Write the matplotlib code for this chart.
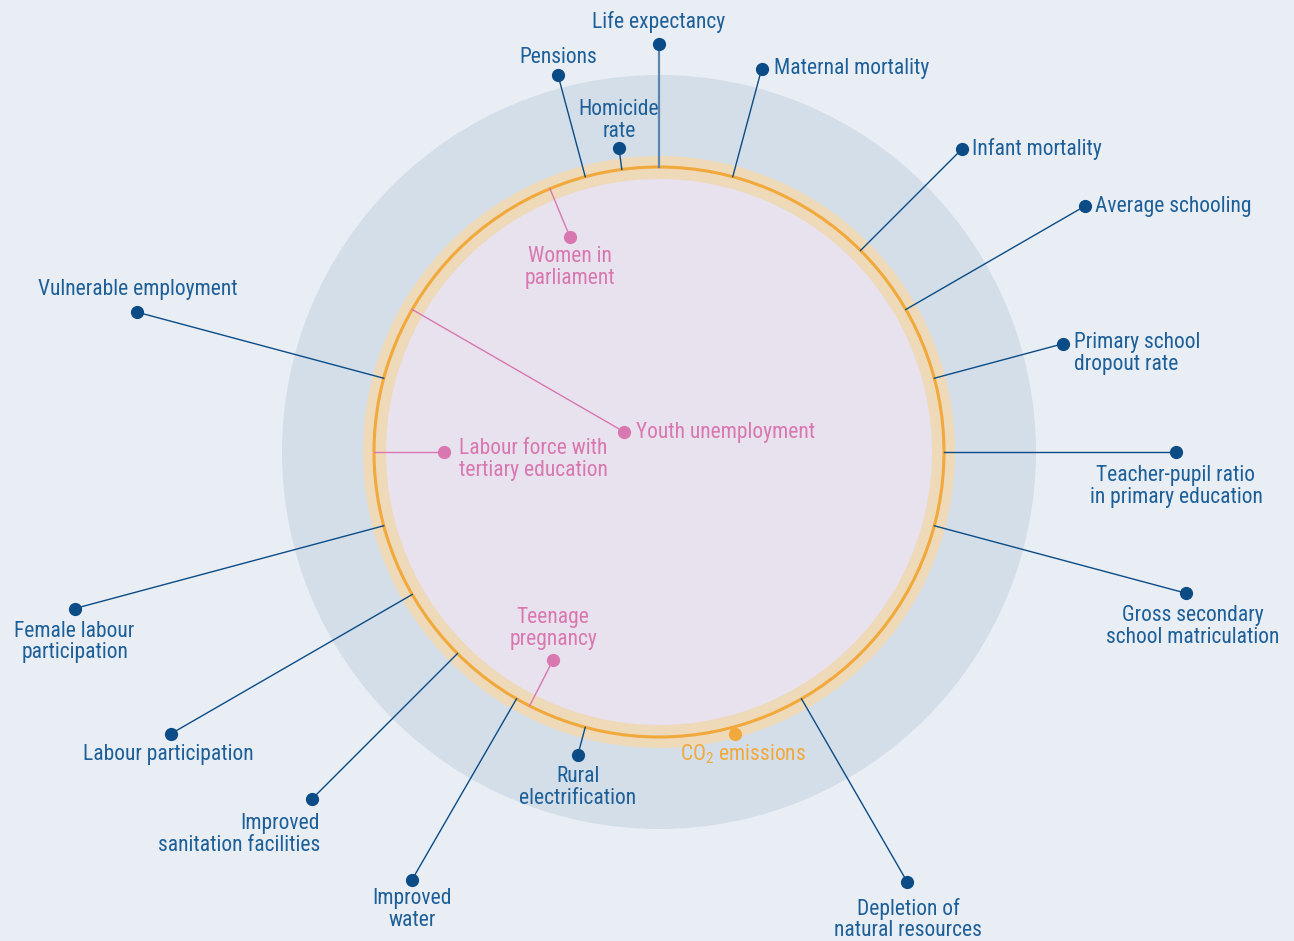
import numpy as np
import matplotlib.pyplot as plt
from matplotlib.patches import Circle

# indicators: label, angle (deg, counter-clockwise from east), distance from centre
names_out = ["Life expectancy", "Maternal mortality", "Infant mortality", "Average schooling",
             "Primary school\ndropout rate", "Teacher-pupil ratio\nin primary education",
             "Gross secondary\nschool matriculation", "Depletion of\nnatural resources",
             "Rural\nelectrification", "Improved\nwater", "Improved\nsanitation facilities",
             "Labour participation", "Female labour\nparticipation", "Vulnerable employment",
             "Pensions", "Homicide\nrate"]
angles_out = [90, 75, 45, 30, 15, 0, -15, -60, -105, -120, -135, -150, -165, 165, 105, 97.5]
dist_out = [408, 397, 429, 492, 418, 517, 546, 496, 314, 494, 491, 564, 605, 540, 390, 307]

names_in = ["Women in\nparliament", "Youth unemployment", "Labour force with\ntertiary education",
            "Teenage\npregnancy"]
angles_in = [112.5, 150, 180, -117]
dist_in = [233, 40, 215, 233]

co2_angle = -75
co2_dist = 292

# label placement: (dx, dy, ha, va) in pixels relative to dot
lab_out = [(0, -11, "center", "bottom"), (12, 0, "left", "center"), (10, 0, "left", "center"),
           (10, 0, "left", "center"), (11, -12, "left", "top"), (0, 13, "center", "top"),
           (6, 12, "center", "top"), (1, 16, "center", "top"), (0, 11, "center", "top"),
           (0, 8, "center", "top"), (8, 14, "right", "top"), (-2, 10, "center", "top"),
           (0, 12, "center", "top"), (0, -12, "center", "bottom"), (0, -7, "center", "bottom"),
           (0, -6, "center", "bottom")]
lab_in = [(0, 9, "center", "top"), (12, 0, "left", "center"), (15, -14, "left", "top"),
          (0, -10, "center", "bottom")]

cx, cy = 659, 452
ring_r = 285

bg = "#e9eef5"
outer_col = "#d4dee9"
inner_col = "#e8e1ee"
beige = "#eed9b8"
orange = "#f2a93b"
blue = "#0b4c86"
blue_txt = "#1d5f98"
pink = "#d977b1"

plt.rcParams['font.family'] = ['Roboto Condensed', 'DejaVu Sans']
plt.rcParams['mathtext.default'] = 'regular'

fig = plt.figure(figsize=(12.94, 9.41), dpi=100)
fig.patch.set_facecolor(bg)
ax = fig.add_axes([0, 0, 1, 1])
ax.set_xlim(0, 1294)
ax.set_ylim(941, 0)
ax.set_aspect("equal")
ax.axis("off")

ax.add_patch(Circle((cx, cy), 377, color=outer_col, lw=0, zorder=0))
ax.add_patch(Circle((cx, cy), 296, color=beige, lw=0, zorder=1))
ax.add_patch(Circle((cx, cy), 273, color=inner_col, lw=0, zorder=2))
ax.add_patch(Circle((cx, cy), ring_r, fill=False, ec=orange, lw=2.2, zorder=3))

fs = 15.5
kw = dict(fontsize=fs, linespacing=1.05, zorder=6)


def pos(a, r):
    t = np.radians(a)
    return cx + r * np.cos(t), cy - r * np.sin(t)


for n, a, d, (ox, oy, ha, va) in zip(names_out, angles_out, dist_out, lab_out):
    x0, y0 = pos(a, ring_r)
    x1, y1 = pos(a, d)
    lw = 1.6 if a == 90 else 1.0
    col = "#5a86b0" if a == 90 else blue
    ax.plot([x0, x1], [y0, y1], color=col, lw=lw, zorder=4)
    ax.plot(x1, y1, "o", color=blue, ms=8.5, zorder=5)
    ax.text(x1 + ox, y1 + oy, n, ha=ha, va=va, color=blue_txt, **kw)

for n, a, d, (ox, oy, ha, va) in zip(names_in, angles_in, dist_in, lab_in):
    x0, y0 = pos(a, ring_r)
    x1, y1 = pos(a, d)
    ax.plot([x0, x1], [y0, y1], color=pink, lw=1.0, zorder=4)
    ax.plot(x1, y1, "o", color=pink, ms=8.5, zorder=5)
    ax.text(x1 + ox, y1 + oy, n, ha=ha, va=va, color=pink, **kw)

x1, y1 = pos(co2_angle, co2_dist)
ax.plot(x1, y1, "o", color=orange, ms=8.5, zorder=5)
ax.text(x1 + 8, y1 + 8, "CO$_2$ emissions", ha="center", va="top", color=orange, **kw)

fig.savefig("out.png", dpi=100, facecolor=bg)
